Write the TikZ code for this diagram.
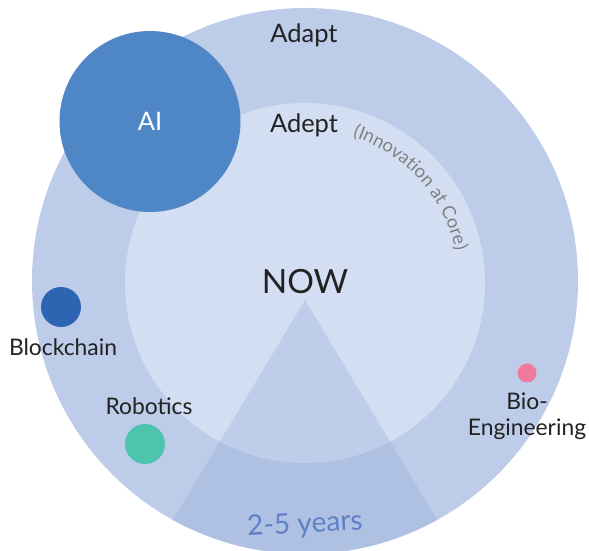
\documentclass[tikz,border=0pt]{standalone}
\usepackage{fontspec}
\setmainfont{Lato}
\usetikzlibrary{calc,decorations.text}
\definecolor{ring}{HTML}{BDCCE9}
\definecolor{core}{HTML}{D3DEF2}
\definecolor{wedge}{HTML}{8FA8D8}
\definecolor{aiblue}{HTML}{4F86C6}
\definecolor{bcblue}{HTML}{2E65B2}
\definecolor{rbgreen}{HTML}{4EC3AE}
\definecolor{biopink}{HTML}{F07A9A}
\definecolor{ink}{HTML}{222222}
\definecolor{yrs}{HTML}{5F7FC6}

\begin{document}
\begin{tikzpicture}[x=0.02cm,y=0.02cm,
  lbl/.style={text=ink,font=\fontsize{13}{15}\selectfont,inner sep=0pt},
  dot/.style={circle,inner sep=0pt,minimum size=#1*0.02cm}]

\useasboundingbox (0,0) rectangle (589,551);

\coordinate (oc) at (305,270);
\coordinate (ic) at (305,268);
\coordinate (apex) at (305,251);

\fill[ring] (oc) circle[radius=273];
\fill[core] (ic) circle[radius=180];

\begin{scope}
\clip (oc) circle[radius=273];
\fill[wedge,opacity=0.3] (apex) -- (148,-10) -- (462,-10) -- cycle;
\end{scope}

\node[dot=181,fill=aiblue,text=white,font=\fontsize{14.5}{17}\selectfont] (ai) at (150,429.5) {AI};
\node[dot=40,fill=bcblue] (bc) at (61,244) {};
\node[dot=40,fill=rbgreen] (rb) at (145,107) {};
\node[dot=19,fill=biopink] (bio) at (527,178) {};

\node[lbl] (bcl) at (63,204) {Blockchain};
\node[lbl] (rbl) at (149,145) {Robotics};
\node[lbl,align=center,font=\fontsize{13}{14.6}\selectfont] (biol) at (527,135) {Bio-\\Engineering};

\node[lbl,font=\fontsize{14.5}{17}\selectfont] (adapt) at (304,516) {Adapt};
\node[lbl,font=\fontsize{14.5}{17}\selectfont] (adept) at (304,426) {Adept};
\node[lbl,font=\fontsize{19}{22}\selectfont] (now) at (305,269) {NOW};
\node[text=yrs,font=\fontsize{16}{19}\selectfont,rotate=3,inner sep=0pt] (years) at (305,26) {2-5 years};

\path[decorate,decoration={text along path,text align=center,
  text={|\fontsize{10.5}{12}\selectfont\color{gray}|(Innovation at Core)}}]
  ($(ic)+(72:154)$) arc[start angle=72,end angle=12,radius=154];

\end{tikzpicture}
\end{document}
